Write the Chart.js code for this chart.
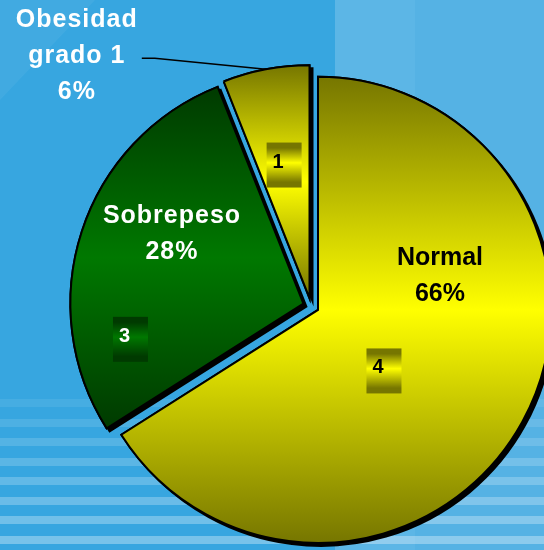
<!DOCTYPE html>
<html>
<head>
<meta charset="utf-8">
<script src="https://cdn.jsdelivr.net/npm/chart.js@4.4.1/dist/chart.umd.min.js"></script>
<style>
html,body{margin:0;padding:0;background:#36a5df;}
#wrap{width:544px;height:550px;position:relative;}
canvas{display:block;}
</style>
</head>
<body>
<div id="wrap"><canvas id="c" width="544" height="550"></canvas></div>
<script>
// ---- data ----
const categories = ['Normal', 'Sobrepeso', 'Obesidad grado 1'];
const percentValues = [66, 28, 6];
const percentLabels = ['66%', '28%', '6%'];
const nameLines = [['Normal'], ['Sobrepeso'], ['Obesidad', 'grado 1']];
const boxValues = ['4', '3', '1'];

// ---- styling / placement ----
const EXPLODE = 8;
const RADIUS = 233;
const sliceStyles = [
  { dark: '#767600', light: '#ffff00' },
  { dark: '#003a00', light: '#007800' },
  { dark: '#767600', light: '#ffff00' }
];
const nameStyle = [
  { dist: 126.6, deg: 74.4, color: '#000000', spacing: '0px' },
  { dist: 148.7, deg: 297.9, color: '#ffffff', spacing: '1px' },
  { dist: 335.6, deg: 316.1, color: '#ffffff', spacing: '1px', leader: true }
];
const boxStyle = [
  { dist: 89.9, deg: 132.8, color: '#000000' },
  { dist: 176.6, deg: 258.3, color: '#ffffff' },
  { dist: 135.5, deg: 349.2, color: '#000000' }
];
const FONT = "'Liberation Sans', Arial, sans-serif";

function sliceAngles(i) {
  const total = percentValues.reduce((s, v) => s + v, 0);
  let before = 0;
  for (let k = 0; k < i; k++) before += percentValues[k];
  const a0 = -Math.PI / 2 + 2 * Math.PI * before / total;
  const a1 = a0 + 2 * Math.PI * percentValues[i] / total;
  return { a0, a1 };
}

function sliceFill(context) {
  const chart = context.chart;
  const i = context.dataIndex;
  const st = sliceStyles[i];
  const area = chart.chartArea;
  if (!area) return st.light;
  const cx = (area.left + area.right) / 2, cy = (area.top + area.bottom) / 2;
  const { a0, a1 } = sliceAngles(i);
  let ymin = cy, ymax = cy;
  for (let t = 0; t <= 240; t++) {
    const ang = a0 + (a1 - a0) * t / 240;
    const y = cy + RADIUS * Math.sin(ang);
    ymin = Math.min(ymin, y); ymax = Math.max(ymax, y);
  }
  const g = chart.ctx.createLinearGradient(0, ymin, 0, ymax);
  g.addColorStop(0, st.dark);
  g.addColorStop(0.5, st.light);
  g.addColorStop(1, st.dark);
  return g;
}

const bgPlugin = {
  id: 'bg',
  beforeDraw(chart) {
    const ctx = chart.ctx, W = chart.width, H = chart.height;
    ctx.save();
    ctx.fillStyle = '#37a6e0';
    ctx.fillRect(0, 0, W, H);
    ctx.fillStyle = '#5cb6e6';
    ctx.fillRect(335, 0, 80, H);
    ctx.fillStyle = '#55b2e4';
    ctx.fillRect(415, 0, W - 415, H);
    ctx.fillStyle = 'rgba(255,255,255,0.05)';
    ctx.beginPath(); ctx.moveTo(0, 0); ctx.lineTo(95, 0); ctx.lineTo(0, 100); ctx.closePath(); ctx.fill();
    let k = 0;
    for (let y = 399; y < H; y += 19.5, k++) {
      const a = Math.min(0.08 + k * 0.035, 0.36);
      ctx.fillStyle = 'rgba(255,255,255,' + a + ')';
      ctx.fillRect(0, Math.round(y), W, 8);
    }
    ctx.restore();
  }
};

const explodePlugin = {
  id: 'explode',
  beforeDatasetDraw(chart, args) {
    const ctx = chart.ctx;
    args.meta.data.forEach(arc => {
      const mid = (arc.startAngle + arc.endAngle) / 2;
      const tx = Math.cos(mid) * EXPLODE, ty = Math.sin(mid) * EXPLODE;
      // pass 1: drop shadow
      ctx.save();
      ctx.translate(tx, ty);
      ctx.shadowColor = '#000000';
      ctx.shadowOffsetX = 3;
      ctx.shadowOffsetY = 3;
      ctx.shadowBlur = 0;
      arc.draw(ctx);
      ctx.restore();
      // pass 2: clean slice on top
      ctx.save();
      ctx.translate(tx, ty);
      arc.draw(ctx);
      ctx.restore();
    });
    return false;
  }
};

function polar(x, y, dist, deg) {
  const r = deg * Math.PI / 180;
  return { x: x + dist * Math.sin(r), y: y - dist * Math.cos(r) };
}

const labelPlugin = {
  id: 'labels',
  afterDatasetsDraw(chart) {
    const ctx = chart.ctx;
    const meta = chart.getDatasetMeta(0);
    meta.data.forEach((arc, i) => {
      const mid = (arc.startAngle + arc.endAngle) / 2;
      const ax = arc.x + Math.cos(mid) * EXPLODE;
      const ay = arc.y + Math.sin(mid) * EXPLODE;
      // value box
      const bs = boxStyle[i];
      const bp = polar(ax, ay, bs.dist, bs.deg);
      const bw = 35, bh = 45;
      const bx = bp.x - bw / 2, by = bp.y - bh / 2;
      const g = ctx.createLinearGradient(0, by, 0, by + bh);
      const st = sliceStyles[i];
      g.addColorStop(0, st.dark);
      g.addColorStop(0.12, st.dark);
      g.addColorStop(0.45, st.light);
      g.addColorStop(0.88, st.dark);
      g.addColorStop(1, st.dark);
      ctx.save();
      ctx.fillStyle = g;
      ctx.fillRect(bx, by, bw, bh);
      ctx.fillStyle = bs.color;
      ctx.font = 'bold 20px ' + FONT;
      ctx.textAlign = 'left';
      ctx.textBaseline = 'alphabetic';
      ctx.fillText(boxValues[i], bx + 6, by + 25);
      ctx.restore();
      // category + percent label
      const ns = nameStyle[i];
      const np = polar(ax, ay, ns.dist, ns.deg);
      const lines = nameLines[i].concat([percentLabels[i]]);
      const lh = 36;
      ctx.save();
      ctx.fillStyle = ns.color;
      ctx.font = 'bold 25px ' + FONT;
      ctx.letterSpacing = ns.spacing;
      ctx.textAlign = 'center';
      ctx.textBaseline = 'middle';
      lines.forEach((t, j) => {
        const y = np.y + (j - (lines.length - 1) / 2) * lh;
        ctx.fillText(t, np.x, y);
      });
      ctx.restore();
      if (ns.leader) {
        const end = { x: ax + Math.cos(mid) * arc.outerRadius, y: ay + Math.sin(mid) * arc.outerRadius };
        const sx = np.x + 65, sy = np.y + 2;
        ctx.save();
        ctx.strokeStyle = '#000000';
        ctx.lineWidth = 1.5;
        ctx.beginPath();
        ctx.moveTo(sx, sy);
        ctx.lineTo(sx + 13, sy);
        ctx.lineTo(end.x, end.y);
        ctx.stroke();
        ctx.restore();
      }
    });
  }
};

new Chart(document.getElementById('c'), {
  type: 'pie',
  data: {
    labels: categories,
    datasets: [{
      data: percentValues,
      backgroundColor: sliceFill,
      borderColor: '#000000',
      borderWidth: 2,
      borderJoinStyle: 'miter',
      clip: false
    }]
  },
  options: {
    responsive: false,
    animation: false,
    events: [],
    radius: RADIUS,
    layout: { padding: { left: 78, top: 62, right: 0, bottom: 0 } },
    plugins: { legend: { display: false }, tooltip: { enabled: false } }
  },
  plugins: [bgPlugin, explodePlugin, labelPlugin]
});
</script>
</body>
</html>
